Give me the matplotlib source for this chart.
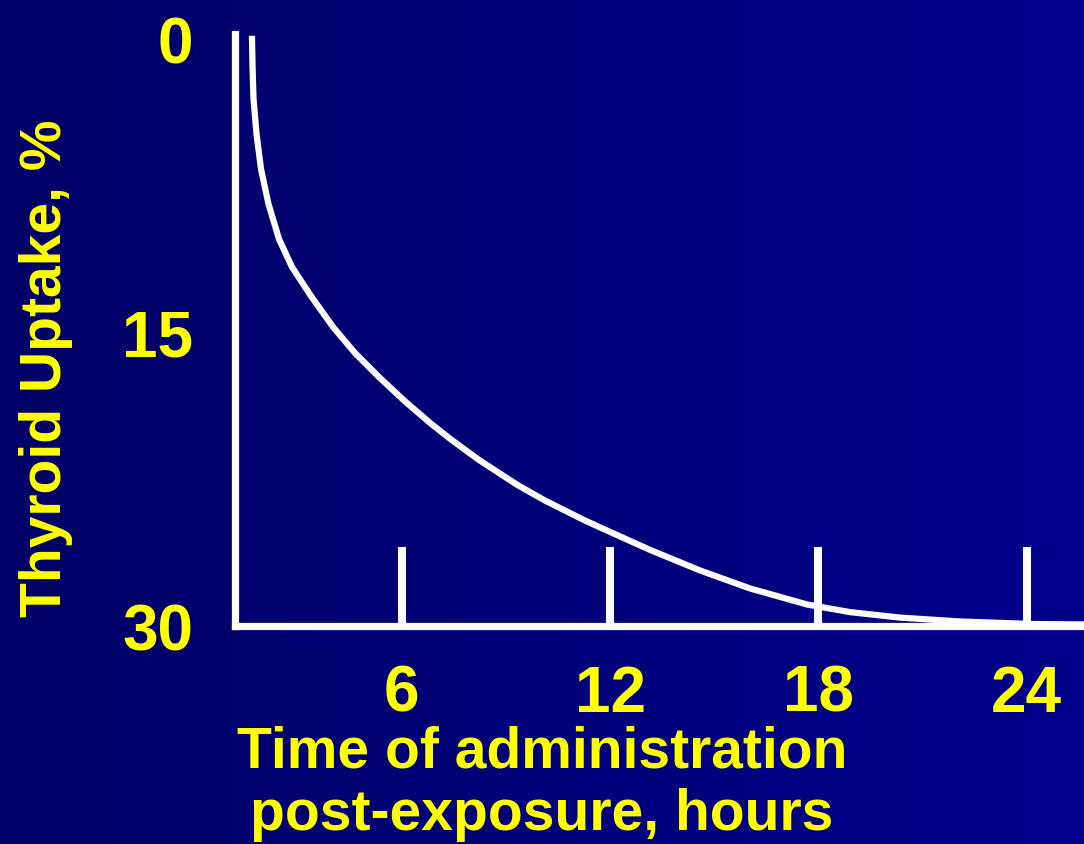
import numpy as np
import matplotlib
matplotlib.use("Agg")
import matplotlib.pyplot as plt
from matplotlib.colors import LinearSegmentedColormap

plt.rcParams['font.family'] = ['Liberation Sans', 'DejaVu Sans']

# curve (hours, % uptake)
hours = [1.685, 1.699, 1.728, 1.815, 1.944, 2.160, 2.463, 2.837, 3.384,
         4.018, 4.651, 5.372, 6.092, 6.812, 7.388, 8.194, 9.317, 10.124,
         11.218, 11.708, 13.148, 14.588, 16.028, 17.670, 18.908, 20.348,
         22.076, 24.179, 25.648]
uptake = [0.0, 1.33, 3.07, 4.86, 6.65, 8.44, 10.23, 11.66, 13.14,
          14.72, 16.05, 17.33, 18.52, 19.62, 20.43, 21.48, 22.78, 23.59,
          24.56, 24.96, 26.11, 27.16, 28.08, 28.90, 29.29, 29.57,
          29.77, 29.90, 29.92]

x_ticks = [6, 12, 18, 24]
y_ticks = [0, 15, 30]
x_title = ["Time of administration", "post-exposure, hours"]
y_title = "Thyroid Uptake, %"

yellow = '#FFFF00'
W, H = 1084, 845
fig = plt.figure(figsize=(W / 100, H / 100), dpi=100)

# background gradient, dark navy to brighter blue
bg = fig.add_axes([0, 0, 1, 1], zorder=-1)
cmap = LinearSegmentedColormap.from_list('bg', ['#000066', '#00008C'])
bg.imshow(np.linspace(0, 1, 256).reshape(1, -1), aspect='auto', cmap=cmap,
          extent=[0, 1, 0, 1])
bg.axis('off')

ax = fig.add_axes([235 / W, 1 - 627 / H, 1 - 235 / W, (627 - 35) / H])
ax.patch.set_alpha(0)
ax.plot(hours, uptake, color='white', lw=4.5, solid_joinstyle='round')

ax.set_xlim(1.195, 25.65)
ax.set_ylim(30, -0.25)

for s in ['top', 'right']:
    ax.spines[s].set_visible(False)
for s in ['left', 'bottom']:
    ax.spines[s].set_color('white')
    ax.spines[s].set_linewidth(5.2)

ax.set_xticks(x_ticks)
ax.set_xticklabels([str(v) for v in x_ticks])
ax.set_yticks(y_ticks)
ax.set_yticklabels([str(v) for v in y_ticks])
ax.tick_params(axis='x', direction='in', length=57, width=5.8, color='white',
               pad=27, labelsize=46, labelcolor=yellow)
ax.tick_params(axis='y', length=0, pad=30, labelsize=46, labelcolor=yellow)
for lab in ax.get_xticklabels() + ax.get_yticklabels():
    lab.set_fontweight('bold')

fig.text(46 / W, 1 - 368 / H, y_title, rotation=90, ha='center', va='center',
         color=yellow, fontsize=41, fontweight='bold')
fig.text(542 / W, 1 - 768 / H, x_title[0], ha='center', va='baseline',
         color=yellow, fontsize=41, fontweight='bold')
fig.text(542 / W, 1 - 830 / H, x_title[1], ha='center', va='baseline',
         color=yellow, fontsize=41, fontweight='bold')

fig.savefig('out.png', dpi=100)
